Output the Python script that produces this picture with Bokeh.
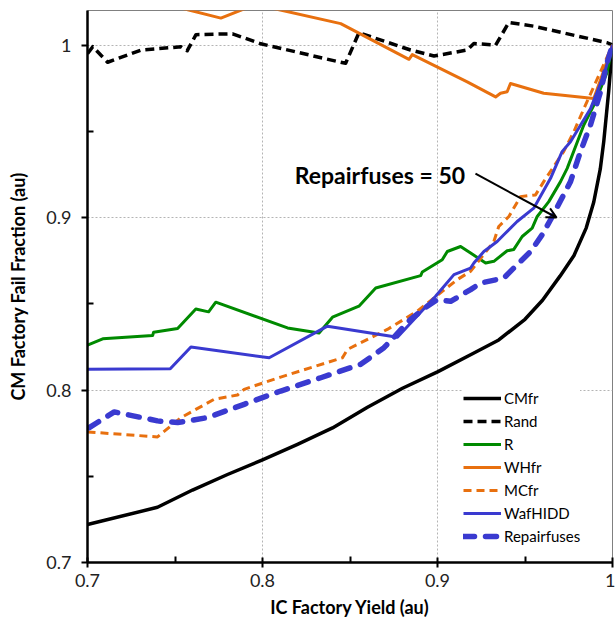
from bokeh.plotting import figure
from bokeh.models import (ColumnDataSource, Legend, LegendItem, FixedTicker,
                          Range1d, Label, Arrow, OpenHead)
from bokeh.embed import file_html
from bokeh.resources import INLINE

# ---------------- data ----------------
cmfr_x = [0.700, 0.740, 0.760, 0.780, 0.800, 0.820, 0.840, 0.860, 0.880, 0.900,
          0.920, 0.935, 0.950, 0.960, 0.970, 0.978, 0.985, 0.9893, 0.993, 0.995,
          0.9978, 1.000]
cmfr_y = [0.722, 0.732, 0.742, 0.751, 0.7595, 0.7685, 0.778, 0.790, 0.801, 0.8105,
          0.821, 0.829, 0.841, 0.852, 0.866, 0.878, 0.894, 0.909, 0.928, 0.944,
          0.973, 1.000]

rand_x = [0.700, 0.703, 0.7115, 0.7305, 0.7534, 0.757, 0.762, 0.7829, 0.799, 0.8447,
          0.8475, 0.8551, 0.8846, 0.898, 0.917, 0.9208, 0.9332, 0.9408, 0.955, 0.997, 1.000]
rand_y = [0.995, 0.999, 0.990, 0.997, 0.999, 0.9967, 1.006, 1.0065, 1.0007, 0.990,
          0.9894, 1.0071, 0.9971, 0.9936, 0.9971, 1.0009, 0.9999, 1.0131, 1.0109, 1.0013, 1.000]

r_x = [0.700, 0.7087, 0.7372, 0.7378, 0.7515, 0.7619, 0.7692, 0.7733, 0.8143, 0.8323,
       0.840, 0.8551, 0.8647, 0.8904, 0.8913, 0.9027, 0.9056, 0.9132, 0.9189, 0.9275,
       0.9322, 0.9398, 0.9436, 0.9484, 0.9541, 0.957, 0.9636, 0.9703, 0.9741, 0.9836,
       0.9893, 0.997, 1.000]
r_y = [0.826, 0.8297, 0.8316, 0.8335, 0.8357, 0.847, 0.8453, 0.8509, 0.836, 0.8331,
       0.8422, 0.8486, 0.8591, 0.8663, 0.8684, 0.8755, 0.8803, 0.8832, 0.8794, 0.8736,
       0.8746, 0.8807, 0.8815, 0.889, 0.8938, 0.9006, 0.9092, 0.9208, 0.9285, 0.9536,
       0.965, 0.9844, 1.000]

whfr_x = [0.700, 0.7762, 0.796, 0.8447, 0.8837, 0.8856, 0.917, 0.9332, 0.936, 0.9398,
          0.9417, 0.9607, 0.9893, 0.995, 1.000]
whfr_y = [1.035, 1.0156, 1.0235, 1.0124, 0.9917, 0.9944, 0.9786, 0.9699, 0.972, 0.9729,
          0.9777, 0.972, 0.969, 0.985, 1.000]

mcfr_x = [0.700, 0.740, 0.7534, 0.7724, 0.7857, 0.7895, 0.8104, 0.8457, 0.8485, 0.8713,
          0.8885, 0.898, 0.9113, 0.9189, 0.9322, 0.935, 0.9408, 0.9474, 0.956, 0.9607,
          0.9721, 0.9779, 0.9836, 0.9931, 1.000]
mcfr_y = [0.7757, 0.7728, 0.784, 0.7946, 0.7971, 0.8004, 0.8075, 0.8187, 0.8235, 0.8351,
          0.8457, 0.8534, 0.864, 0.8688, 0.8861, 0.8948, 0.9006, 0.9121, 0.9131, 0.9208,
          0.9382, 0.9497, 0.963, 0.9844, 1.000]

waf_x = [0.700, 0.7473, 0.7591, 0.8038, 0.8371, 0.8771, 0.8989, 0.9094, 0.9189, 0.9208,
         0.9265, 0.9341, 0.9379, 0.9455, 0.955, 0.9646, 0.9712, 0.976, 0.9874, 0.995, 1.000]
waf_y = [0.812, 0.8123, 0.8249, 0.8187, 0.837, 0.8306, 0.8543, 0.8669, 0.8707, 0.8736,
         0.8803, 0.8861, 0.890, 0.8977, 0.9054, 0.9227, 0.9382, 0.9439, 0.963, 0.9824, 1.000]

rep_x = [0.701, 0.7153, 0.740, 0.7515, 0.7686, 0.7895, 0.8104, 0.8333, 0.8561, 0.8694,
         0.8846, 0.8942, 0.8999, 0.9075, 0.9189, 0.9246, 0.9379, 0.9436, 0.9532, 0.9598,
         0.9646, 0.976, 0.9817, 0.9874, 0.9931, 0.997, 1.000]
rep_y = [0.7782, 0.7873, 0.7821, 0.7811, 0.784, 0.7917, 0.7994, 0.8071, 0.8149, 0.8245,
         0.8409, 0.8486, 0.8524, 0.8514, 0.8582, 0.862, 0.8649, 0.8707, 0.8803, 0.890,
         0.8987, 0.9208, 0.9382, 0.9536, 0.9728, 0.9901, 1.000]

series_names = ["CMfr", "Rand", "R", "WHfr", "MCfr", "WafHIDD", "Repairfuses"]

x_ticks = [0.7, 0.8, 0.9, 1.0]
x_tick_labels = ["0.7", "0.8", "0.9", "1"]
y_ticks = [0.7, 0.8, 0.9, 1.0]
y_tick_labels = ["0.7", "0.8", "0.9", "1"]
minor_ticks = [0.75, 0.85, 0.95]

annot_text = "Repairfuses = 50"
annot_x, annot_y = 0.8184, 0.9249
arrow_x0, arrow_y0, arrow_x1, arrow_y1 = 0.9217, 0.9254, 0.968, 0.9000

# ---------------- figure ----------------
FONT = "Lato"
p = figure(width=615, height=620, output_backend="svg", toolbar_location=None,
           x_range=Range1d(0.7, 1.0), y_range=Range1d(0.7, 1.02),
           min_border_left=87, min_border_right=3, min_border_top=10, min_border_bottom=58)
p.background_fill_color = "white"
p.border_fill_color = "white"
p.outline_line_color = "#808080"
p.outline_line_width = 1

for ax, ticks, labels in ((p.xaxis[0], x_ticks, x_tick_labels), (p.yaxis[0], y_ticks, y_tick_labels)):
    ax.ticker = FixedTicker(ticks=ticks, minor_ticks=minor_ticks)
    ax.major_label_overrides = {t: l for t, l in zip(ticks, labels)}
    ax.axis_line_color = "black"
    ax.axis_line_width = 2.5
    ax.major_tick_line_color = "black"
    ax.major_tick_line_width = 2
    ax.minor_tick_line_color = "black"
    ax.minor_tick_line_width = 2
    ax.major_label_text_font = FONT
    ax.major_label_text_font_size = "18px"
    ax.major_label_text_color = "#222222"
    ax.axis_label_text_font = FONT
    ax.axis_label_text_font_style = "bold"
    ax.axis_label_text_font_size = "18px"
    ax.axis_label_text_color = "black"

p.xaxis.axis_label = "IC Factory Yield (au)"
p.yaxis.axis_label = "CM Factory Fail Fraction (au)"
p.xaxis.major_tick_out = 5
p.xaxis.major_tick_in = 5
p.xaxis.minor_tick_in = 6
p.xaxis.minor_tick_out = 0
p.xaxis.major_label_standoff = 6
p.xaxis.axis_label_standoff = 6
p.yaxis.major_tick_out = 6
p.yaxis.major_tick_in = 0
p.yaxis.minor_tick_in = 6
p.yaxis.minor_tick_out = 0
p.yaxis.major_label_standoff = 10
p.yaxis.axis_label_standoff = 14

for g in (p.xgrid[0], p.ygrid[0]):
    g.grid_line_color = "#b4b4b4"
    g.grid_line_dash = "2 2"
    g.grid_line_width = 1
p.xgrid[0].ticker = FixedTicker(ticks=x_ticks)
p.ygrid[0].ticker = FixedTicker(ticks=y_ticks)

BLACK = "black"
GREEN = "#008a00"
ORANGE = "#E8700F"
BLUE = "#3A3AD0"

styles = [
    (cmfr_x, cmfr_y, BLACK, 3.5, "solid", "butt"),
    (rand_x, rand_y, BLACK, 3.5, "9 5", "butt"),
    (r_x, r_y, GREEN, 3, "solid", "butt"),
    (whfr_x, whfr_y, ORANGE, 3, "solid", "butt"),
    (mcfr_x, mcfr_y, ORANGE, 3, "8 5", "butt"),
    (waf_x, waf_y, BLUE, 3, "solid", "butt"),
    (rep_x, rep_y, BLUE, 5.5, "11 11", "round"),
]

items = []
for name, (xs, ys, col, lw, dash, cap) in zip(series_names, styles):
    src = ColumnDataSource(dict(x=xs, y=ys))
    r = p.line("x", "y", source=src, line_color=col, line_width=lw,
               line_dash=dash, line_cap=cap, line_join="round")
    items.append(LegendItem(label=name, renderers=[r]))

legend = Legend(items=items, location=(376, 16))
legend.label_text_font = FONT
legend.label_text_font_size = "15px"
legend.label_text_color = "black"
legend.glyph_width = 38
legend.glyph_height = 20
legend.label_height = 20
legend.spacing = 3
legend.label_standoff = 3
legend.padding = 6
legend.margin = 0
legend.border_line_color = None
legend.background_fill_color = "white"
legend.background_fill_alpha = 1.0
p.add_layout(legend, "center")

p.add_layout(Label(x=annot_x, y=annot_y, text=annot_text, text_font=FONT,
                   text_font_style="bold", text_font_size="23px",
                   text_baseline="middle", text_align="left", text_color="black"))
p.add_layout(Arrow(end=OpenHead(size=10, line_width=2, line_color="black"),
                   x_start=arrow_x0, y_start=arrow_y0, x_end=arrow_x1, y_end=arrow_y1,
                   line_width=2, line_color="black"))

open("out.html", "w").write(file_html(p, INLINE))
